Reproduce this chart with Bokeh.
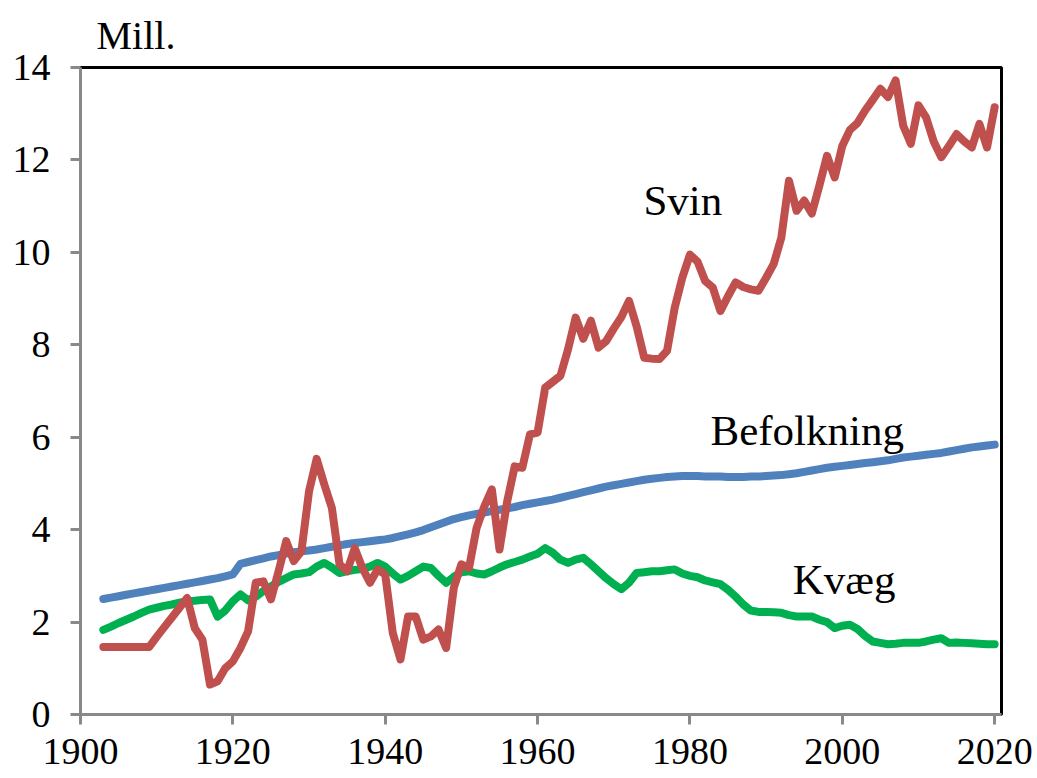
from bokeh.plotting import figure
from bokeh.models import FixedTicker, Label, Title
from bokeh.embed import file_html
from bokeh.resources import INLINE

years = list(range(1903, 2021))

befolkning = [
    2.50, 2.53, 2.56, 2.59, 2.62, 2.65, 2.68,
    2.71, 2.74, 2.77, 2.80, 2.83, 2.86, 2.89, 2.92, 2.95, 2.99,
    3.03, 3.26, 3.30, 3.34, 3.38, 3.42, 3.45, 3.48, 3.51, 3.53,
    3.55, 3.57, 3.60, 3.63, 3.66, 3.69, 3.71, 3.73, 3.75, 3.77,
    3.79, 3.82, 3.86, 3.90, 3.94, 3.99, 4.05, 4.11, 4.17, 4.23,
    4.27, 4.31, 4.34, 4.37, 4.40, 4.43, 4.46, 4.49, 4.53, 4.56,
    4.59, 4.62, 4.65, 4.69, 4.73, 4.77, 4.81, 4.85, 4.89, 4.93,
    4.96, 4.99, 5.02, 5.05, 5.08, 5.10, 5.12, 5.14, 5.15, 5.16,
    5.16, 5.16, 5.15, 5.15, 5.15, 5.14, 5.14, 5.14, 5.15, 5.15,
    5.16, 5.17, 5.18, 5.20, 5.22, 5.25, 5.28, 5.31, 5.34, 5.36,
    5.38, 5.40, 5.42, 5.44, 5.46, 5.48, 5.50, 5.53, 5.56, 5.58,
    5.60, 5.62, 5.64, 5.66, 5.69, 5.72, 5.75, 5.78, 5.80, 5.82,
    5.84,
]

svin = [
    1.46, 1.46, 1.46, 1.46, 1.46, 1.46, 1.46,
    1.68, 1.89, 2.10, 2.31, 2.52, 1.87, 1.62, 0.65, 0.72, 1.00,
    1.15, 1.44, 1.80, 2.85, 2.88, 2.49, 3.10, 3.75, 3.32, 3.53,
    4.83, 5.53, 4.98, 4.47, 3.25, 3.10, 3.60, 3.17, 2.85, 3.14,
    3.03, 1.76, 1.19, 2.12, 2.12, 1.62, 1.69, 1.84, 1.44, 2.74,
    3.25, 3.17, 4.04, 4.50, 4.87, 3.57, 4.60, 5.37, 5.34, 6.06,
    6.10, 7.07, 7.20, 7.33, 7.90, 8.59, 8.13, 8.52, 7.94, 8.08,
    8.35, 8.60, 8.95, 8.40, 7.72, 7.70, 7.69, 7.87, 8.80, 9.45,
    9.95, 9.80, 9.38, 9.24, 8.73, 9.05, 9.35, 9.25, 9.20, 9.17,
    9.45, 9.75, 10.32, 11.55, 10.90, 11.12, 10.84, 11.45, 12.09, 11.62,
    12.30, 12.65, 12.80, 13.07, 13.30, 13.54, 13.36, 13.72, 12.74, 12.35,
    13.18, 12.92, 12.40, 12.06, 12.30, 12.56, 12.40, 12.27, 12.78, 12.27,
    13.14,
]

kvaeg = [
    1.83, 1.90, 1.98, 2.05, 2.12, 2.20, 2.27,
    2.31, 2.35, 2.38, 2.42, 2.45, 2.46, 2.48, 2.49, 2.12, 2.25,
    2.45, 2.60, 2.47, 2.55, 2.67, 2.77, 2.87, 2.95, 3.03, 3.05,
    3.08, 3.20, 3.28, 3.18, 3.06, 3.10, 3.13, 3.15, 3.20, 3.28,
    3.20, 3.05, 2.92, 3.00, 3.10, 3.20, 3.17, 3.00, 2.85, 2.98,
    3.08, 3.10, 3.05, 3.03, 3.10, 3.18, 3.25, 3.30, 3.35, 3.42,
    3.48, 3.60, 3.50, 3.35, 3.28, 3.35, 3.39, 3.25, 3.10, 2.95,
    2.82, 2.71, 2.85, 3.06, 3.08, 3.10, 3.10, 3.12, 3.14, 3.05,
    3.00, 2.97, 2.90, 2.86, 2.82, 2.70, 2.55, 2.38, 2.25, 2.22,
    2.22, 2.21, 2.20, 2.15, 2.12, 2.12, 2.12, 2.05, 2.00, 1.87,
    1.92, 1.94, 1.85, 1.70, 1.58, 1.55, 1.52, 1.53, 1.55, 1.55,
    1.55, 1.58, 1.62, 1.65, 1.55, 1.56, 1.55, 1.54, 1.53, 1.52,
    1.52,
]

x_ticks = [1900, 1920, 1940, 1960, 1980, 2000, 2020]
y_ticks = [0, 2, 4, 6, 8, 10, 12, 14]

labels = ["Svin", "Befolkning", "Kvæg"]
label_x = [1973.9, 1982.7, 1993.5]
label_y = [11.12, 6.14, 2.93]
unit_text = "Mill."

FONT = "Liberation Serif"
AXIS_GRAY = "#898989"

p = figure(width=1035, height=776, output_backend="svg", toolbar_location=None,
           x_range=(1900, 2020.9), y_range=(0, 14),
           min_border_left=80, min_border_right=34, min_border_top=67, min_border_bottom=62)

p.add_layout(Title(text=unit_text, text_font=FONT, text_font_size="40px",
                   text_font_style="normal", text_color="black",
                   align="left", offset=16, standoff=20,
                   text_line_height=0.8), "above")

p.xgrid.visible = False
p.ygrid.visible = False
p.background_fill_color = "white"
p.border_fill_color = "white"
p.outline_line_color = "black"
p.outline_line_width = 3

for ax, ticks in ((p.xaxis[0], x_ticks), (p.yaxis[0], y_ticks)):
    ax.ticker = FixedTicker(ticks=ticks)
    ax.axis_line_color = AXIS_GRAY
    ax.axis_line_width = 3
    ax.major_tick_line_color = AXIS_GRAY
    ax.major_tick_line_width = 3
    ax.major_tick_out = 10
    ax.major_tick_in = 0
    ax.minor_tick_line_color = None
    ax.major_label_text_font = FONT
    ax.major_label_text_font_size = "38px"
    ax.major_label_text_color = "black"

p.xaxis.major_label_standoff = 14
p.yaxis.major_label_standoff = 20

p.line(years, befolkning, line_color="#4F81BD", line_width=8, line_join="round", line_cap="round")
p.line(years, kvaeg, line_color="#00B050", line_width=8, line_join="round", line_cap="round")
p.line(years, svin, line_color="#C0504D", line_width=8, line_join="round", line_cap="round")

for t, lx, ly in zip(labels, label_x, label_y):
    p.add_layout(Label(x=lx, y=ly, text=t, text_font=FONT, text_font_size="43px",
                       text_color="black", text_baseline="alphabetic", text_align="left"))

open("out.html", "w").write(file_html(p, INLINE))
